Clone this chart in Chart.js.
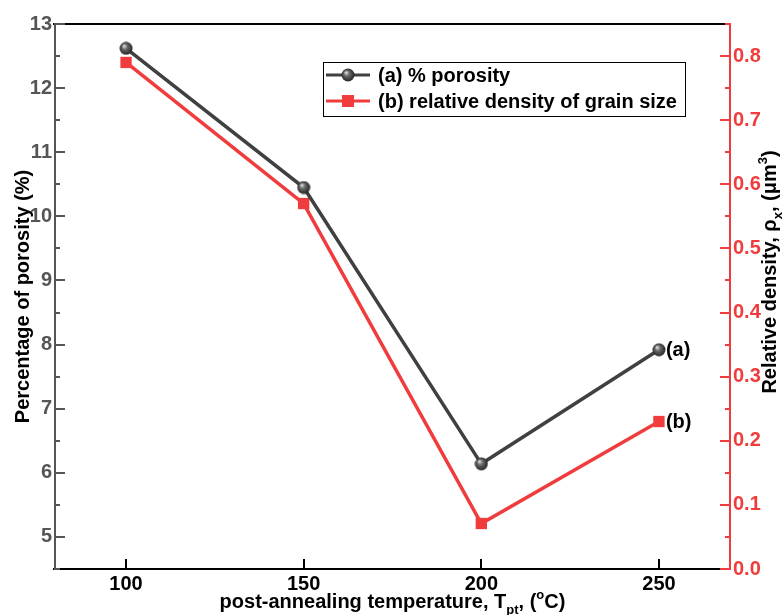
<!DOCTYPE html>
<html>
<head>
<meta charset="utf-8">
<script src="https://cdn.jsdelivr.net/npm/chart.js@4"></script>
<style>
  html, body { margin: 0; padding: 0; background: #fff; }
  #wrap { width: 783px; height: 615px; }
</style>
</head>
<body>
<div id="wrap"><canvas id="chart" width="783" height="615"></canvas></div>
<script>
// data
const temps = [100, 150, 200, 250];
const porosity = [12.62, 10.45, 6.14, 7.92];
const density = [0.79, 0.57, 0.071, 0.23];
const xTicks = [100, 150, 200, 250];
const leftTicks = [5, 6, 7, 8, 9, 10, 11, 12, 13];
const rightTicks = [0, 0.1, 0.2, 0.3, 0.4, 0.5, 0.6, 0.7, 0.8];

const GREY = '#404040';
const AXIS_GREY = '#555555';
const RED = '#f03c3c';
const FONT = '"Liberation Sans", Arial, sans-serif';
const FS = 20;

// shaded ball marker
const ball = (() => {
  const c = document.createElement('canvas');
  c.width = 14; c.height = 14;
  const g = c.getContext('2d');
  const grad = g.createRadialGradient(5, 4.5, 0.5, 7, 7, 7);
  grad.addColorStop(0, '#d8d8d8');
  grad.addColorStop(0.35, '#6a6a6a');
  grad.addColorStop(1, '#1e1e1e');
  g.fillStyle = grad;
  g.beginPath();
  g.arc(7, 7, 6.5, 0, Math.PI * 2);
  g.fill();
  return c;
})();

const toXY = (ys) => temps.map((x, i) => ({ x, y: ys[i] }));

// draws text made of pieces, some sub/superscript
const richText = (ctx, parts, size) => {
  const widths = parts.map((p) => {
    ctx.font = `bold ${p.small ? size * 0.65 : size}px ${FONT}`;
    return ctx.measureText(p.t).width;
  });
  const total = widths.reduce((a, b) => a + b, 0);
  let x = -total / 2;
  parts.forEach((p, i) => {
    ctx.font = `bold ${p.small ? size * 0.65 : size}px ${FONT}`;
    ctx.fillText(p.t, x, p.dy || 0);
    x += widths[i];
  });
};

const frame = {
  id: 'frame',
  afterDraw(chart) {
    const { ctx, chartArea: a, scales } = chart;
    const { x, y, y2 } = scales;
    ctx.save();
    ctx.lineWidth = 2;

    // top + bottom
    ctx.strokeStyle = '#000';
    ctx.beginPath();
    ctx.moveTo(a.left - 2, a.top); ctx.lineTo(a.right, a.top);
    ctx.moveTo(a.left - 2, a.bottom); ctx.lineTo(a.right, a.bottom);
    ctx.stroke();
    ctx.beginPath();
    xTicks.forEach((v) => {
      const px = Math.round(x.getPixelForValue(v));
      ctx.moveTo(px, a.bottom); ctx.lineTo(px, a.bottom - 10);
    });
    ctx.stroke();

    // left axis
    ctx.strokeStyle = AXIS_GREY;
    ctx.beginPath();
    ctx.moveTo(a.left, a.top - 1); ctx.lineTo(a.left, a.bottom + 1);
    leftTicks.forEach((v) => {
      const py = Math.round(y.getPixelForValue(v));
      ctx.moveTo(a.left, py); ctx.lineTo(a.left + 10, py);
      const pm = Math.round(y.getPixelForValue(v - 0.5));
      ctx.moveTo(a.left, pm); ctx.lineTo(a.left + 5, pm);
    });
    ctx.stroke();

    // right axis
    ctx.strokeStyle = RED;
    ctx.beginPath();
    ctx.moveTo(a.right, a.top - 1); ctx.lineTo(a.right, a.bottom + 1);
    rightTicks.forEach((v) => {
      const py = Math.round(y2.getPixelForValue(v));
      ctx.moveTo(a.right, py); ctx.lineTo(a.right - 10, py);
      const pm = Math.round(y2.getPixelForValue(v + 0.05));
      ctx.moveTo(a.right, pm); ctx.lineTo(a.right - 5, pm);
    });
    ctx.stroke();

    // axis titles
    ctx.fillStyle = '#000';
    ctx.textBaseline = 'alphabetic';
    ctx.textAlign = 'left';

    ctx.save();
    ctx.translate((a.left + a.right) / 2, 608);
    richText(ctx, [
      { t: 'post-annealing temperature, T' },
      { t: 'pt', small: true, dy: 6 },
      { t: ', (' },
      { t: 'o', small: true, dy: -9 },
      { t: 'C)' }
    ], FS);
    ctx.restore();

    ctx.save();
    ctx.translate(29, (a.top + a.bottom) / 2);
    ctx.rotate(-Math.PI / 2);
    richText(ctx, [{ t: 'Percentage of porosity (%)' }], FS);
    ctx.restore();

    ctx.save();
    ctx.translate(776, 272);
    ctx.rotate(-Math.PI / 2);
    richText(ctx, [
      { t: 'Relative density, \u03C1' },
      { t: 'x', small: true, dy: 6 },
      { t: ', (\u03BCm' },
      { t: '3', small: true, dy: -9 },
      { t: ')' }
    ], FS);
    ctx.restore();

    // end labels
    ctx.font = `bold ${FS}px ${FONT}`;
    ctx.textBaseline = 'middle';
    const ax = x.getPixelForValue(temps[3]) + 7;
    ctx.fillText('(a)', ax, y.getPixelForValue(porosity[3]) + 1);
    ctx.fillText('(b)', ax, y2.getPixelForValue(density[3]) + 1);

    // legend
    const lx = 323, ly = 62, lw = 362, lh = 54;
    ctx.lineWidth = 1;
    ctx.strokeStyle = '#000';
    ctx.strokeRect(lx + 0.5, ly + 0.5, lw, lh);
    const rows = [
      { label: '(a) % porosity', color: GREY, ball: true, y: ly + 13 },
      { label: '(b) relative density of grain size', color: RED, ball: false, y: ly + 39 }
    ];
    rows.forEach((r) => {
      ctx.strokeStyle = r.color;
      ctx.lineWidth = 3;
      ctx.beginPath();
      ctx.moveTo(lx + 3, r.y); ctx.lineTo(lx + 47, r.y);
      ctx.stroke();
      if (r.ball) {
        ctx.drawImage(ball, lx + 18, r.y - 7);
      } else {
        ctx.fillStyle = RED;
        ctx.fillRect(lx + 19, r.y - 6, 12, 12);
      }
      ctx.fillStyle = '#000';
      ctx.fillText(r.label, lx + 55, r.y + 1);
    });
    ctx.restore();
  }
};

const tickFont = { family: FONT, size: FS, weight: 'bold' };

new Chart(document.getElementById('chart'), {
  type: 'line',
  data: {
    datasets: [
      {
        label: '(a) % porosity',
        data: toXY(porosity),
        yAxisID: 'y',
        borderColor: GREY,
        borderWidth: 3.5,
        pointStyle: ball,
        pointRadius: 7,
        tension: 0
      },
      {
        label: '(b) relative density of grain size',
        data: toXY(density),
        yAxisID: 'y2',
        borderColor: RED,
        backgroundColor: RED,
        borderWidth: 3.5,
        pointStyle: 'rect',
        pointRadius: 8,
        pointBorderWidth: 0,
        tension: 0
      }
    ]
  },
  options: {
    responsive: false,
    animation: false,
    layout: { padding: { top: 24, left: 0, right: 0, bottom: 0 } },
    plugins: { legend: { display: false }, tooltip: { enabled: false } },
    scales: {
      x: {
        type: 'linear',
        min: 80,
        max: 270,
        grid: { display: false, drawTicks: false },
        border: { display: false },
        afterBuildTicks: (s) => { s.ticks = xTicks.map((value) => ({ value })); },
        afterFit: (s) => { s.height = 46; },
        ticks: { color: '#000', padding: 3, font: tickFont }
      },
      y: {
        position: 'left',
        min: 4.5,
        max: 13,
        grid: { display: false, drawTicks: false },
        border: { display: false },
        afterBuildTicks: (s) => { s.ticks = leftTicks.map((value) => ({ value })); },
        afterFit: (s) => { s.width = 55; },
        ticks: { color: AXIS_GREY, padding: 3, font: tickFont }
      },
      y2: {
        position: 'right',
        min: 0,
        max: 0.85,
        grid: { display: false, drawTicks: false },
        border: { display: false },
        afterBuildTicks: (s) => { s.ticks = rightTicks.map((value) => ({ value })); },
        afterFit: (s) => { s.width = 53; },
        ticks: {
          color: RED,
          padding: 3,
          font: tickFont,
          callback: (v) => Number(v).toFixed(1)
        }
      }
    }
  },
  plugins: [frame]
});
</script>
</body>
</html>
